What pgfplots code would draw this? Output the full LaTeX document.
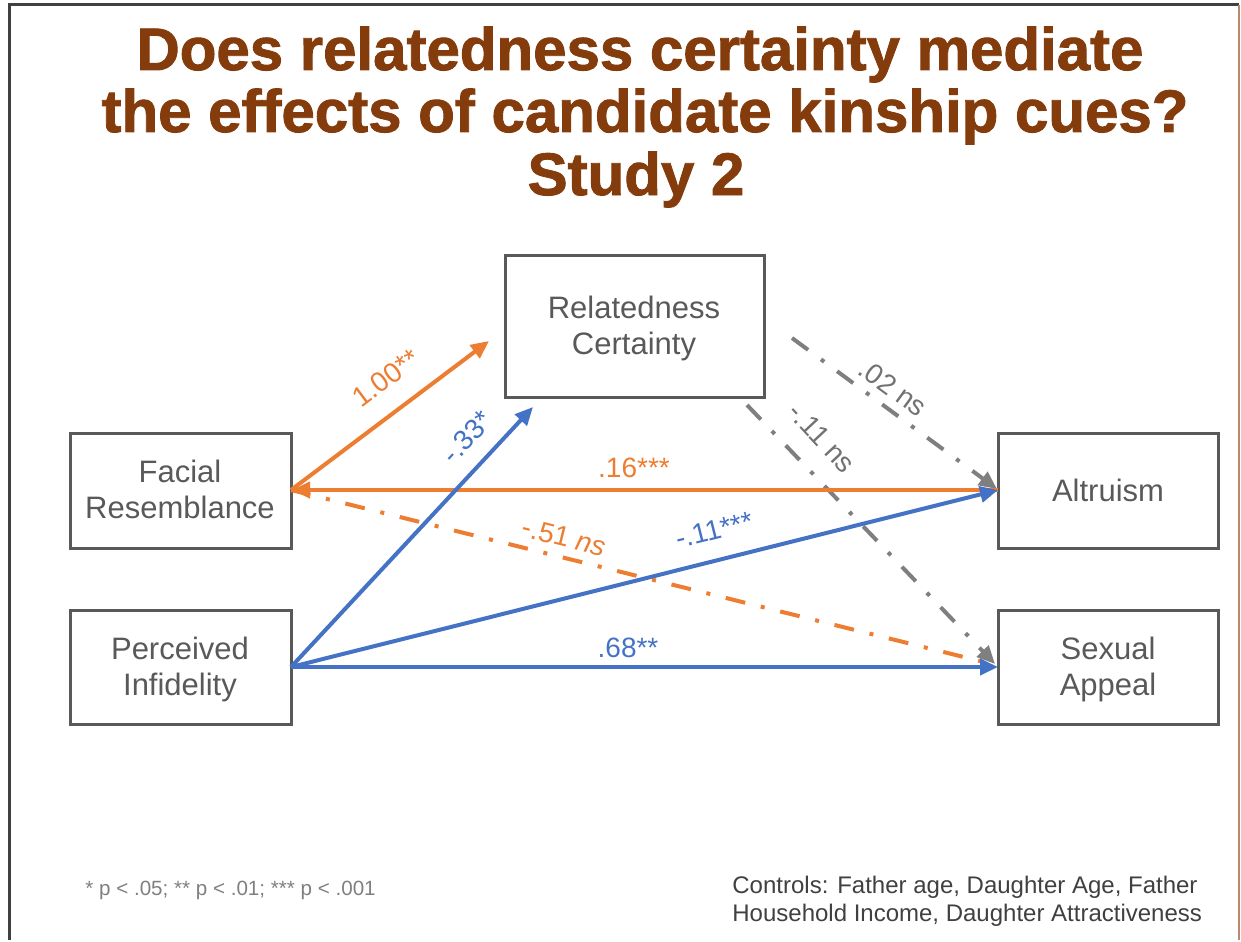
\documentclass[border=0pt]{standalone}
\usepackage{pgfplots}
\pgfplotsset{compat=1.18}
\usepackage{fontspec}
\setmainfont{Liberation Sans}
\newfontfamily\titlefont[FakeBold=1.5]{Liberation Sans Bold}
\usetikzlibrary{arrows.meta}
\definecolor{ttl}{HTML}{843C0C}
\definecolor{org}{HTML}{ED7D31}
\definecolor{blu}{HTML}{4472C4}
\definecolor{gry}{HTML}{7F7F7F}
\definecolor{boxc}{HTML}{595959}
\definecolor{txt}{HTML}{595959}
\definecolor{ctl}{HTML}{404040}
\begin{document}
\begin{tikzpicture}
\begin{axis}[scale only axis, width=620.5pt, height=470pt,
  xmin=0, xmax=1241, ymin=0, ymax=940, y dir=reverse,
  hide axis, clip=false,
  tip/.style={-{Triangle[length=9pt,width=8pt]}},
  dd/.style={dash pattern=on 10pt off 8pt on 2pt off 8pt}]
\path (rel axis cs:0,0) rectangle (rel axis cs:1,1);
% outer frame
\addplot[black!75, line width=1.5pt] coordinates {(9,940) (9,5) (1239,5)};
\addplot[ttl!60, line width=0.8pt] coordinates {(1239,5) (1239,940)};
% boxes
\addplot[boxc, line width=1.5pt] coordinates {(505,255) (764,255) (764,397) (505,397) (505,255) (764,255)};
\addplot[boxc, line width=1.5pt] coordinates {(70,433) (291,433) (291,548) (70,548) (70,433) (291,433)};
\addplot[boxc, line width=1.5pt] coordinates {(70,610) (291,610) (291,724) (70,724) (70,610) (291,610)};
\addplot[boxc, line width=1.5pt] coordinates {(998,433) (1218,433) (1218,548) (998,548) (998,433) (1218,433)};
\addplot[boxc, line width=1.5pt] coordinates {(998,610) (1218,610) (1218,724) (998,724) (998,610) (1218,610)};
% gray dash-dot paths
\addplot[gry, line width=2pt, dd, tip] coordinates {(792,338) (997,489)};
\addplot[gry, line width=2pt, dd, tip] coordinates {(747,405) (995,664)};
% orange paths
\addplot[org, line width=2pt, dd] coordinates {(291,490) (996,665)};
\addplot[org, line width=2pt, tip] coordinates {(998,490) (292,490)};
\addplot[org, line width=2pt, tip] coordinates {(291,490) (489,341)};
% blue paths
\addplot[blu, line width=2pt, tip] coordinates {(291,667) (533,407)};
\addplot[blu, line width=2pt, tip] coordinates {(291,667) (998,490)};
\addplot[blu, line width=2pt, tip] coordinates {(291,667) (998,667)};
% title
\node[ttl, anchor=base, font=\titlefont\fontsize{30}{31}\selectfont] at (axis cs:640,70) {Does relatedness certainty mediate};
\node[ttl, anchor=base, font=\titlefont\fontsize{30}{31}\selectfont] at (axis cs:645,132) {the effects of candidate kinship cues?};
\node[ttl, anchor=base, font=\titlefont\fontsize{30}{31}\selectfont] at (axis cs:636,195) {Study 2};
% box texts
\tikzset{bt/.style={txt, anchor=base, font=\fontsize{15.5}{19}\selectfont}}
\node[bt] at (axis cs:634,318) {Relatedness};
\node[bt] at (axis cs:634,354) {Certainty};
\node[bt] at (axis cs:180,482) {Facial};
\node[bt] at (axis cs:180,518) {Resemblance};
\node[bt] at (axis cs:180,659) {Perceived};
\node[bt] at (axis cs:180,695) {Infidelity};
\node[bt] at (axis cs:1108,501) {Altruism};
\node[bt] at (axis cs:1108,659) {Sexual};
\node[bt] at (axis cs:1108,695) {Appeal};
% path labels
\tikzset{lb/.style={font=\fontsize{14}{16}\selectfont, inner sep=0pt}}
\node[lb, org, rotate=37] at (axis cs:386,378) {1.00**};
\node[lb, blu, rotate=47] at (axis cs:467,437) {-.33*};
\node[lb, org] at (axis cs:634,468) {.16***};
\node[lb, org, rotate=-14] at (axis cs:564,537) {-.51 \textit{ns}};
\node[lb, blu, rotate=14] at (axis cs:714,530) {-.11***};
\node[lb, blu] at (axis cs:628,648) {.68**};
\node[lb, gry!90!black, rotate=-36] at (axis cs:893,388) {.02 ns};
\node[lb, gry!90!black, rotate=-47] at (axis cs:822,438) {-.11 ns};
% footnotes
\node[gry, anchor=base west, inner sep=0pt, font=\fontsize{10.3}{12}\selectfont] at (axis cs:85,895) {* p < .05; ** p < .01; *** p < .001};
\node[ctl, anchor=base west, inner sep=0pt, font=\fontsize{12}{14}\selectfont] at (axis cs:732,893) {Controls: Father age, Daughter Age, Father};
\node[ctl, anchor=base west, inner sep=0pt, font=\fontsize{12}{14}\selectfont] at (axis cs:732,921) {Household Income, Daughter Attractiveness};
\end{axis}
\end{tikzpicture}
\end{document}
